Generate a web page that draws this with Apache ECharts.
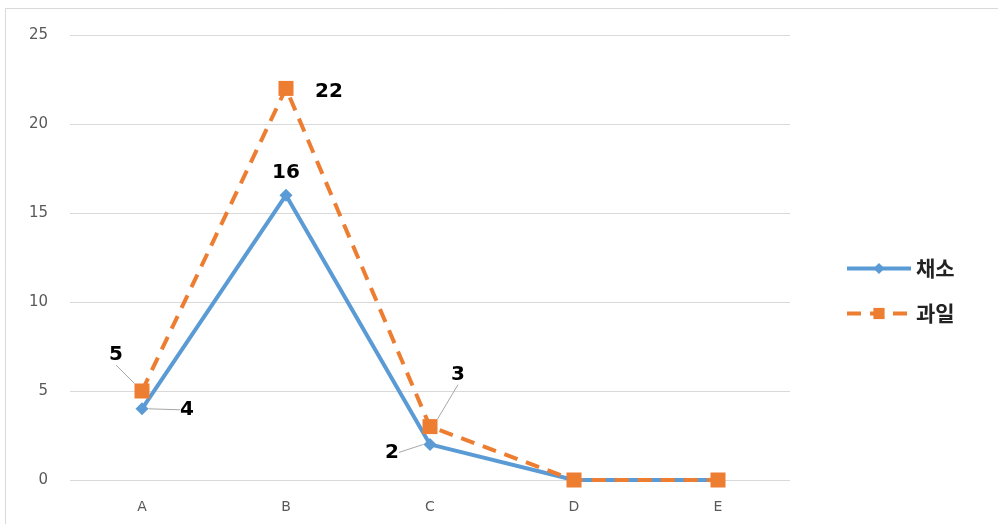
<!DOCTYPE html>
<html>
<head>
<meta charset="utf-8">
<script src="https://cdn.jsdelivr.net/npm/echarts@6/dist/echarts.min.js"></script>
<style>
    html, body { margin: 0; padding: 0; background: #fff; }
    #chart { width: 998px; height: 524px; }
</style>
</head>
<body>
<div id="chart"></div>
<script>
// chart data
var categories = ['A', 'B', 'C', 'D', 'E'];
var vegValues = [4, 16, 2, 0, 0];     // 채소
var fruitValues = [5, 22, 3, 0, 0];   // 과일
var yTicks = [0, 5, 10, 15, 20, 25];

// label offsets (dx, dy) per point, null = no label
var vegLabelMove = [[45, 1], [0, -22], [-38, 8], null, null];
var fruitLabelMove = [[-26, -36], [43, 3], [28, -52], null, null];
// which labels get a leader line
var vegLeader = [true, false, true, false, false];
var fruitLeader = [true, false, true, false, false];

function buildData(values, leader) {
    return values.map(function (v, i) {
        return {
            value: v,
            label: { show: v !== 0 },
            labelLine: { show: leader[i] }
        };
    });
}

function moveFn(moves) {
    return function (params) {
        var m = moves[params.dataIndex];
        if (!m) return {};
        return { dx: m[0], dy: m[1] };
    };
}

var labelStyle = {
    show: true,
    position: 'inside',
    color: '#000',
    fontSize: 20,
    fontWeight: 'bold',
    fontFamily: 'DejaVu Sans'
};

var option = {
    animation: false,
    textStyle: { fontFamily: 'Noto Sans CJK KR' },
    grid: { left: 70, right: 208, top: 35, bottom: 44 },
    legend: {
        orient: 'vertical',
        left: 840,
        top: 253,
        itemWidth: 64,
        itemHeight: 14,
        itemGap: 24,
        textStyle: { fontSize: 21, fontWeight: 'bold', color: '#222', fontFamily: 'Noto Sans CJK KR' },
        data: [
            { name: '채소', lineStyle: { width: 4 } },
            { name: '과일', lineStyle: { width: 4 } }
        ]
    },
    xAxis: {
        type: 'category',
        data: categories,
        axisLine: { show: false },
        axisTick: { show: false },
        axisLabel: { color: '#595959', fontSize: 14, margin: 20, fontFamily: 'DejaVu Sans' }
    },
    yAxis: {
        type: 'value',
        min: yTicks[0],
        max: yTicks[yTicks.length - 1],
        interval: 5,
        axisLine: { show: false },
        axisTick: { show: false },
        axisLabel: { color: '#595959', fontSize: 15, margin: 22, fontFamily: 'DejaVu Sans' },
        splitLine: { lineStyle: { color: '#d9d9d9', width: 1 } }
    },
    series: [
        {
            name: '채소',
            type: 'line',
            data: buildData(vegValues, vegLeader),
            color: '#5B9BD5',
            symbol: 'diamond',
            symbolSize: 13,
            lineStyle: { width: 4, color: '#5B9BD5' },
            label: labelStyle,
            labelLine: { show: true, lineStyle: { color: '#a6a6a6', width: 1 } },
            labelLayout: moveFn(vegLabelMove)
        },
        {
            name: '과일',
            type: 'line',
            data: buildData(fruitValues, fruitLeader),
            color: '#ED7D31',
            symbol: 'rect',
            symbolSize: 15,
            lineStyle: { width: 4, color: '#ED7D31', type: [14, 9] },
            label: labelStyle,
            labelLine: { show: true, lineStyle: { color: '#a6a6a6', width: 1 } },
            labelLayout: moveFn(fruitLabelMove)
        }
    ],
    graphic: [{
        type: 'rect',
        shape: { x: 5.5, y: 8.5, width: 1000, height: 520 },
        style: { fill: 'none', stroke: '#d9d9d9', lineWidth: 1 },
        silent: true
    }]
};

var chart = echarts.init(document.getElementById('chart'));
chart.setOption(option);

window.addEventListener('resize', function () {
    chart.resize();
});
</script>
</body>
</html>
